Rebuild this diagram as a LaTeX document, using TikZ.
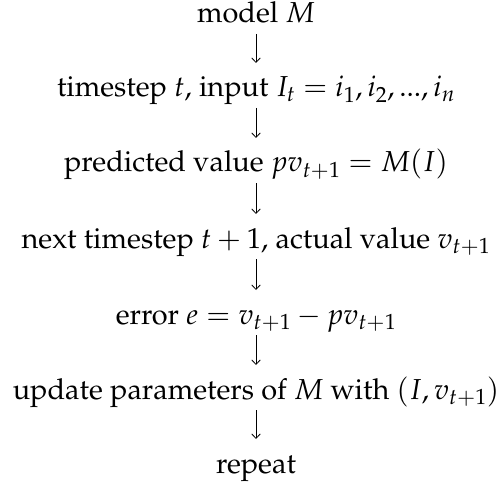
\documentclass[tikz,border=0pt]{standalone}
\usepackage[T1]{fontenc}
\usepackage{mathpazo}
\usetikzlibrary{arrows.meta}
\tikzset{
  stage/.style={anchor=base, inner sep=0pt, font=\fontsize{29}{34}\selectfont},
  flow/.style={line width=0.8bp, -{Straight Barb[length=4.5bp, width=8.5bp, line width=0.8bp]}}
}
\begin{document}
\begin{tikzpicture}[x=1bp, y=-1bp]
  \useasboundingbox (0,0) rectangle (499,485);
  \node[stage] (model)   at (256,23)  {model $M$};
  \node[stage] (input)   at (256,97)  {timestep $t$, input $I_t = i_1, i_2, ..., i_n$};
  \node[stage] (pred)    at (256,172) {predicted value $pv_{t+1} = M(I)$};
  \node[stage] (actual)  at (256,248) {next timestep $t+1$, actual value $v_{t+1}$};
  \node[stage] (err)     at (256,324) {error $e = v_{t+1} - pv_{t+1}$};
  \node[stage] (update)  at (256,399) {update parameters of $M$ with $(I, v_{t+1})$};
  \node[stage] (again)   at (256,473) {repeat};
  \foreach \a/\b in {model/input, input/pred, pred/actual, actual/err, err/update, update/again}
    \draw[flow] ([yshift=-11bp]\a.base) -- ([yshift=34bp]\b.base);
\end{tikzpicture}
\end{document}
